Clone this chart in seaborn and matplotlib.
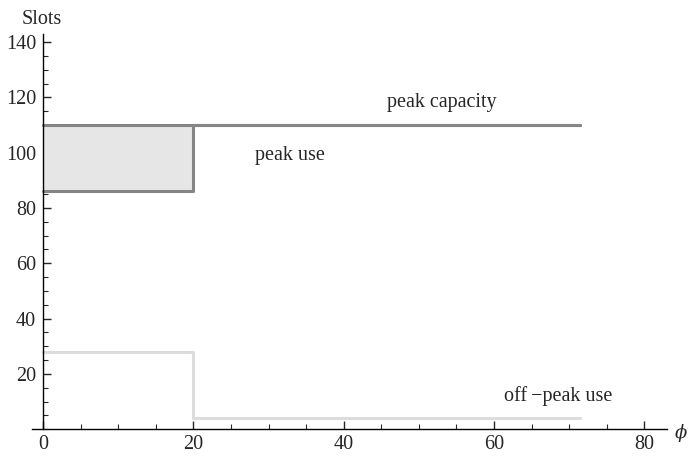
import matplotlib
matplotlib.use("Agg")
import matplotlib.pyplot as plt
import seaborn as sns
import numpy as np
from matplotlib.ticker import MultipleLocator

sns.set_style("white")
plt.rcParams['font.family'] = ['Liberation Serif', 'DejaVu Serif']

# Data
phi = [0, 20, 71.5]
peak_capacity = [110, 110, 110]
peak_use = [86, 110, 110]
offpeak_use = [28, 4, 4]
x_ticks = [0, 20, 40, 60, 80]
y_ticks = [20, 40, 60, 80, 100, 120, 140]

FS = 14.5

fig = plt.figure(figsize=(6.91, 4.58), dpi=100)
ax = fig.add_axes([0.046, 0.063, 0.919, 0.863])

ax.fill_between(phi[:2], peak_use[0], peak_capacity[0], color="#e6e6e6", lw=0)
sns.lineplot(x=phi, y=peak_use, ax=ax, drawstyle="steps-post", estimator=None,
             color="#858585", lw=2.2, sort=False)
sns.lineplot(x=phi, y=peak_capacity, ax=ax, drawstyle="steps-post", estimator=None,
             color="#858585", lw=2.2, sort=False)
sns.lineplot(x=phi, y=offpeak_use, ax=ax, drawstyle="steps-post", estimator=None,
             color="#dcdcdc", lw=2.2, sort=False)

ax.set_xlim(-1.5, 83)
ax.set_ylim(0, 143)
for s in ["top", "right"]:
    ax.spines[s].set_visible(False)
ax.spines["left"].set_position(("data", 0))
ax.spines["left"].set_color("black")
ax.spines["bottom"].set_color("black")
ax.spines["left"].set_linewidth(1.0)
ax.spines["bottom"].set_linewidth(1.0)

ax.set_xticks(x_ticks)
ax.set_yticks(y_ticks)
ax.xaxis.set_minor_locator(MultipleLocator(5))
ax.yaxis.set_minor_locator(MultipleLocator(5))
ax.tick_params(which="major", direction="in", length=6, width=1, labelsize=FS,
               left=True, bottom=True, pad=4)
ax.tick_params(which="minor", direction="in", length=3.5, width=0.8,
               left=True, bottom=True)
ax.tick_params(axis="y", which="major", pad=5)
ax.set_xlabel("")
ax.set_ylabel("")

fig.text(22 / 691, 1 - 19 / 458, "Slots", fontsize=FS, va="center", ha="left")
fig.text(681 / 691, 1 - 433 / 458, "ϕ", fontsize=13, va="center", ha="center",
         style="italic", family=['DejaVu Serif'])

ax.text(53, 118, "peak capacity", fontsize=FS, ha="center", va="center")
ax.text(32.8, 99, "peak use", fontsize=FS, ha="center", va="center")
ax.text(68.5, 12, "off\u2009\u2212peak use", fontsize=FS, ha="center", va="center")

fig.savefig("out.png", dpi=100)
